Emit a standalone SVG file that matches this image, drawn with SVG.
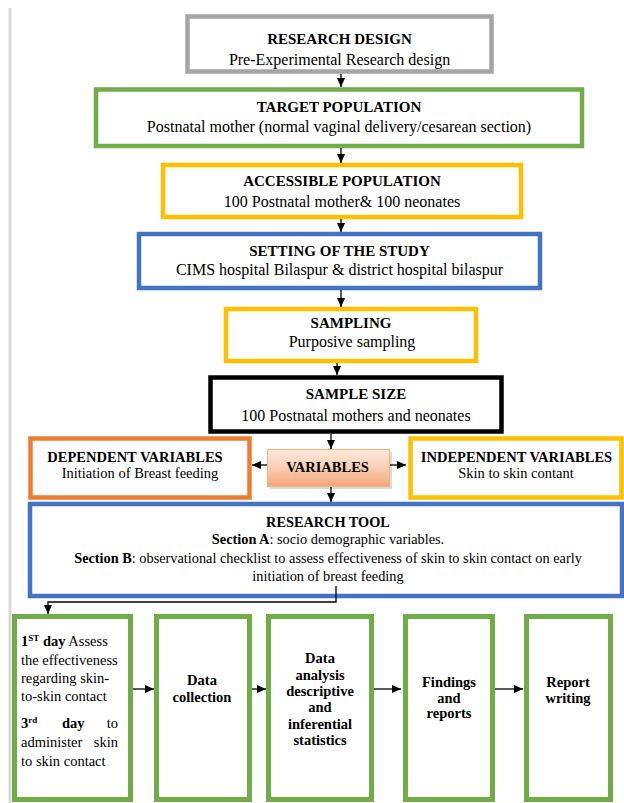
<svg xmlns="http://www.w3.org/2000/svg" width="624" height="803" viewBox="0 0 624 803">
<defs>
<marker id="ah" markerWidth="9" markerHeight="8" refX="9" refY="4" orient="auto" markerUnits="userSpaceOnUse"><path d="M0,0 L9,4 L0,8 z" fill="#000"/></marker>
<linearGradient id="vg" x1="0" y1="0" x2="0" y2="1"><stop offset="0" stop-color="#fde9dc"/><stop offset="0.45" stop-color="#f9d2b9"/><stop offset="1" stop-color="#f2a674"/></linearGradient>
</defs>
<style>
.t{font-family:"Liberation Serif","Times New Roman","DejaVu Serif",serif;fill:#000}
.b{font-weight:bold}
.c{text-anchor:middle}
.h{font-size:15px;font-weight:bold}
.s{font-size:16px}
.m{font-size:14.5px}
.box{fill:#fff;stroke-width:4.5}
.bot{fill:#fff;stroke:#70ad47;stroke-width:5}
.edge{stroke:#000;stroke-width:1.3;fill:none;marker-end:url(#ah)}
</style>
<rect width="624" height="803" fill="#fff"/>
<line x1="10" y1="8" x2="10" y2="803" stroke="#d9d9d9" stroke-width="3"/>

<g id="research-design">
<rect class="box" x="187.5" y="16.5" width="304" height="55" stroke="#a5a5a5"/>
<text class="t h c" x="339.5" y="44">RESEARCH DESIGN</text>
<text class="t s c" x="339.5" y="65">Pre-Experimental Research design</text>
</g>
<g id="target-population">
<rect class="box" x="96" y="89.5" width="486" height="56.5" stroke="#70ad47"/>
<text class="t h c" x="339" y="112">TARGET POPULATION</text>
<text class="t s c" x="339" y="132">Postnatal mother (normal vaginal delivery/cesarean section)</text>
</g>
<g id="accessible-population">
<rect class="box" x="163" y="165" width="358" height="52" stroke="#ffc000"/>
<text class="t h c" x="342" y="186">ACCESSIBLE POPULATION</text>
<text class="t s c" x="342" y="207">100 Postnatal mother&amp; 100 neonates</text>
</g>
<g id="setting">
<rect class="box" x="139" y="234" width="401" height="54" stroke="#4472c4"/>
<text class="t h c" x="339.5" y="256">SETTING OF THE STUDY</text>
<text class="t s c" x="339.5" y="275">CIMS hospital Bilaspur &amp; district hospital bilaspur</text>
</g>
<g id="sampling">
<rect class="box" x="226" y="309" width="250" height="52" stroke="#ffc000"/>
<text class="t h c" x="351" y="328">SAMPLING</text>
<text class="t s c" x="352" y="347">Purposive sampling</text>
</g>
<g id="sample-size">
<rect class="box" x="210.5" y="377.5" width="291" height="54" stroke="#000" stroke-width="5"/>
<text class="t h c" x="356" y="399">SAMPLE SIZE</text>
<text class="t s c" x="356" y="421">100 Postnatal mothers and neonates</text>
</g>
<g id="dependent-variables">
<rect class="box" x="30.5" y="438.5" width="219" height="59" stroke="#ed7d31" stroke-width="5"/>
<text class="t m b c" x="135" y="462">DEPENDENT VARIABLES</text>
<text class="t m c" x="140" y="478">Initiation of Breast feeding</text>
</g>
<g id="variables">
<rect x="270" y="452" width="122" height="37" fill="#bfbfbf" opacity="0.6"/>
<rect x="267.5" y="449.5" width="122" height="37" fill="url(#vg)" stroke="#f4b183" stroke-width="1"/>
<text class="t m b c" x="327.5" y="472">VARIABLES</text>
</g>
<g id="independent-variables">
<rect class="box" x="410.5" y="438.5" width="211" height="59" stroke="#ffc000" stroke-width="5"/>
<text class="t m b c" x="516.5" y="462">INDEPENDENT VARIABLES</text>
<text class="t m c" x="516" y="478">Skin to skin contant</text>
</g>
<g id="research-tool">
<rect class="box" x="30" y="504" width="592" height="92" stroke="#4472c4" stroke-width="4"/>
<text class="t c" font-size="14.3" x="328" y="527" font-weight="bold">RESEARCH TOOL</text>
<text class="t c" font-size="14.3" x="328" y="544"><tspan font-weight="bold">Section A</tspan>: socio demographic variables.</text>
<text class="t c" font-size="14.3" x="328" y="563"><tspan font-weight="bold">Section B</tspan>: observational checklist to assess effectiveness of skin to skin contact on early</text>
<text class="t c" font-size="14.3" x="328" y="581">initiation of breast feeding</text>
</g>
<g id="day-plan">
<rect class="bot" x="14.5" y="616.5" width="116" height="183"/>
<text class="t m" x="21" y="646"><tspan font-weight="bold">1</tspan><tspan font-weight="bold" font-size="9" dy="-5">ST</tspan><tspan font-weight="bold" dy="5"> day</tspan> Assess</text>
<text class="t m" x="21" y="665">the effectiveness</text>
<text class="t m" x="21" y="683">regarding skin-</text>
<text class="t m" x="21" y="701">to-skin contact</text>
<text class="t m" x="21" y="728"><tspan font-weight="bold">3</tspan><tspan font-weight="bold" font-size="9" dy="-5">rd</tspan></text>
<text class="t m b" x="62" y="728">day</text>
<text class="t m" x="118" y="728" text-anchor="end">to</text>
<text class="t m" x="21" y="747">administer</text>
<text class="t m" x="118" y="747" text-anchor="end">skin</text>
<text class="t m" x="21" y="766">to skin contact</text>
</g>
<g id="data-collection">
<rect class="bot" x="156.5" y="616.5" width="93" height="183"/>
<text class="t m b c" x="202" y="685">Data</text>
<text class="t m b c" x="202" y="702">collection</text>
</g>
<g id="data-analysis">
<rect class="bot" x="268.5" y="616.5" width="103" height="183"/>
<text class="t m b c" x="320" y="663">Data</text>
<text class="t m b c" x="320" y="680">analysis</text>
<text class="t m b c" x="320" y="696">descriptive</text>
<text class="t m b c" x="320" y="712">and</text>
<text class="t m b c" x="320" y="729">inferential</text>
<text class="t m b c" x="320" y="745">statistics</text>
</g>
<g id="findings">
<rect class="bot" x="405.5" y="616.5" width="87" height="183"/>
<text class="t m b c" x="449" y="687">Findings</text>
<text class="t m b c" x="449" y="703">and</text>
<text class="t m b c" x="449" y="718">reports</text>
</g>
<g id="report-writing">
<rect class="bot" x="526.5" y="616.5" width="84" height="183"/>
<text class="t m b c" x="568" y="687">Report</text>
<text class="t m b c" x="568" y="703">writing</text>
</g>

<g id="connectors">
<line class="edge" x1="341" y1="74" x2="341" y2="87"/>
<line class="edge" x1="341" y1="148" x2="341" y2="163"/>
<line class="edge" x1="341" y1="219" x2="341" y2="232"/>
<line class="edge" x1="341" y1="290" x2="341" y2="307"/>
<line class="edge" x1="337" y1="363" x2="337" y2="375"/>
<line class="edge" x1="331" y1="434" x2="331" y2="449"/>
<line class="edge" x1="331" y1="487" x2="331" y2="502"/>
<line class="edge" x1="267" y1="465" x2="252" y2="465"/>
<line class="edge" x1="390" y1="465" x2="406" y2="465"/>
<polyline class="edge" points="336,586 336,602 48,602 48,614"/>
<line class="edge" x1="133" y1="689" x2="154" y2="689"/>
<line class="edge" x1="252" y1="689" x2="266" y2="689"/>
<line class="edge" x1="374" y1="689" x2="401" y2="689"/>
<line class="edge" x1="495" y1="689" x2="523" y2="689"/>
</g>
</svg>
